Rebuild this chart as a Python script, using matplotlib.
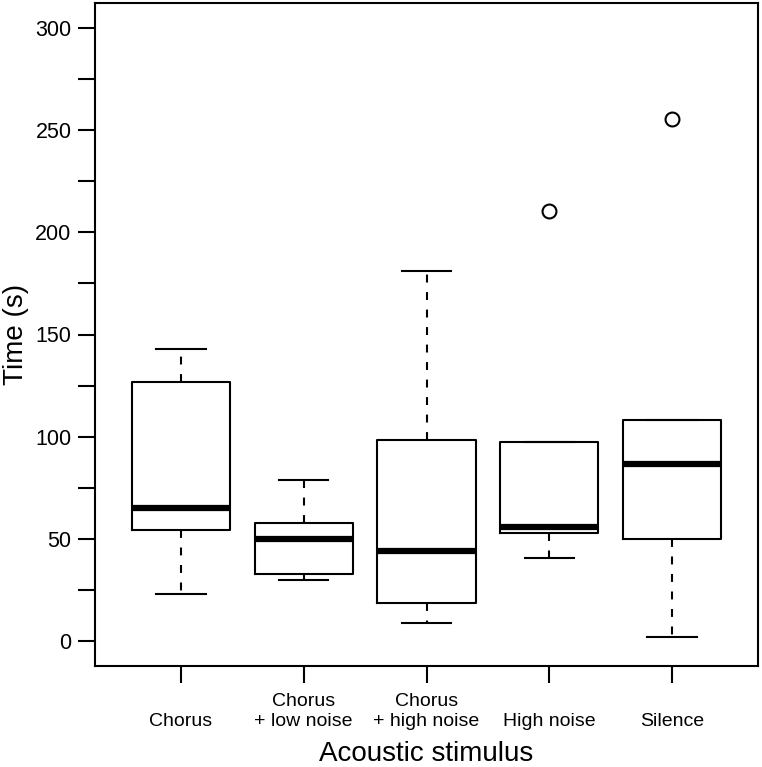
import matplotlib
matplotlib.use("Agg")
import matplotlib.pyplot as plt

plt.rcParams['font.family'] = ['Liberation Sans', 'DejaVu Sans']

groups = ['Chorus', 'Chorus\n+ low noise', 'Chorus\n+ high noise', 'High noise', 'Silence']
whislo = [23, 30, 9, 41, 2]
q1 = [54.7, 33, 19, 53, 50]
med = [65, 50, 44, 56, 86.6]
q3 = [126.9, 58, 98.2, 97.4, 108.1]
whishi = [143, 79, 181.2, 97.4, 108.1]
outliers = [[], [], [], [210.5], [255.3]]

stats = []
for i in range(len(groups)):
    stats.append({'label': groups[i], 'whislo': whislo[i], 'q1': q1[i], 'med': med[i],
                  'q3': q3[i], 'whishi': whishi[i], 'fliers': outliers[i]})

fig = plt.figure(figsize=(7.62, 7.67), dpi=100)
ax = fig.add_axes([95/762, 1-666/767, (758-95)/762, (666-3)/767])

ax.bxp(stats, positions=range(1, 6), widths=0.8, showfliers=True,
       boxprops=dict(color='black', linewidth=1.5),
       medianprops=dict(color='black', linewidth=4.5, solid_capstyle='butt'),
       whiskerprops=dict(color='black', linewidth=1.5, linestyle=(0, (3.8, 4.6))),
       capprops=dict(color='black', linewidth=1.5),
       capwidths=0.4,
       flierprops=dict(marker='o', markersize=10, markerfacecolor='none',
                       markeredgecolor='black', markeredgewidth=1.5))

ax.set_xlim(0.3, 5.7)
ax.set_ylim(-12, 312)

yt = list(range(0, 301, 25))
ax.set_yticks(yt)
ax.set_yticklabels([str(v) if v % 50 == 0 else '' for v in yt], fontsize=15.5)
ax.set_xticks(range(1, 6))
ax.set_xticklabels(groups, fontsize=14, linespacing=1.2)
for lab in ax.get_xticklabels():
    lab.set_verticalalignment('bottom')
ax.tick_params(axis='y', length=12, width=1.5, pad=5)
ax.tick_params(axis='x', length=12, width=1.5, pad=34)

for s in ax.spines.values():
    s.set_linewidth(1.5)

ax.set_ylabel('Time (s)', fontsize=20)
ax.yaxis.set_label_coords(-0.1, 0.5)
ax.set_xlabel('Acoustic stimulus', fontsize=20, labelpad=8)

fig.savefig('out.png', dpi=100)
